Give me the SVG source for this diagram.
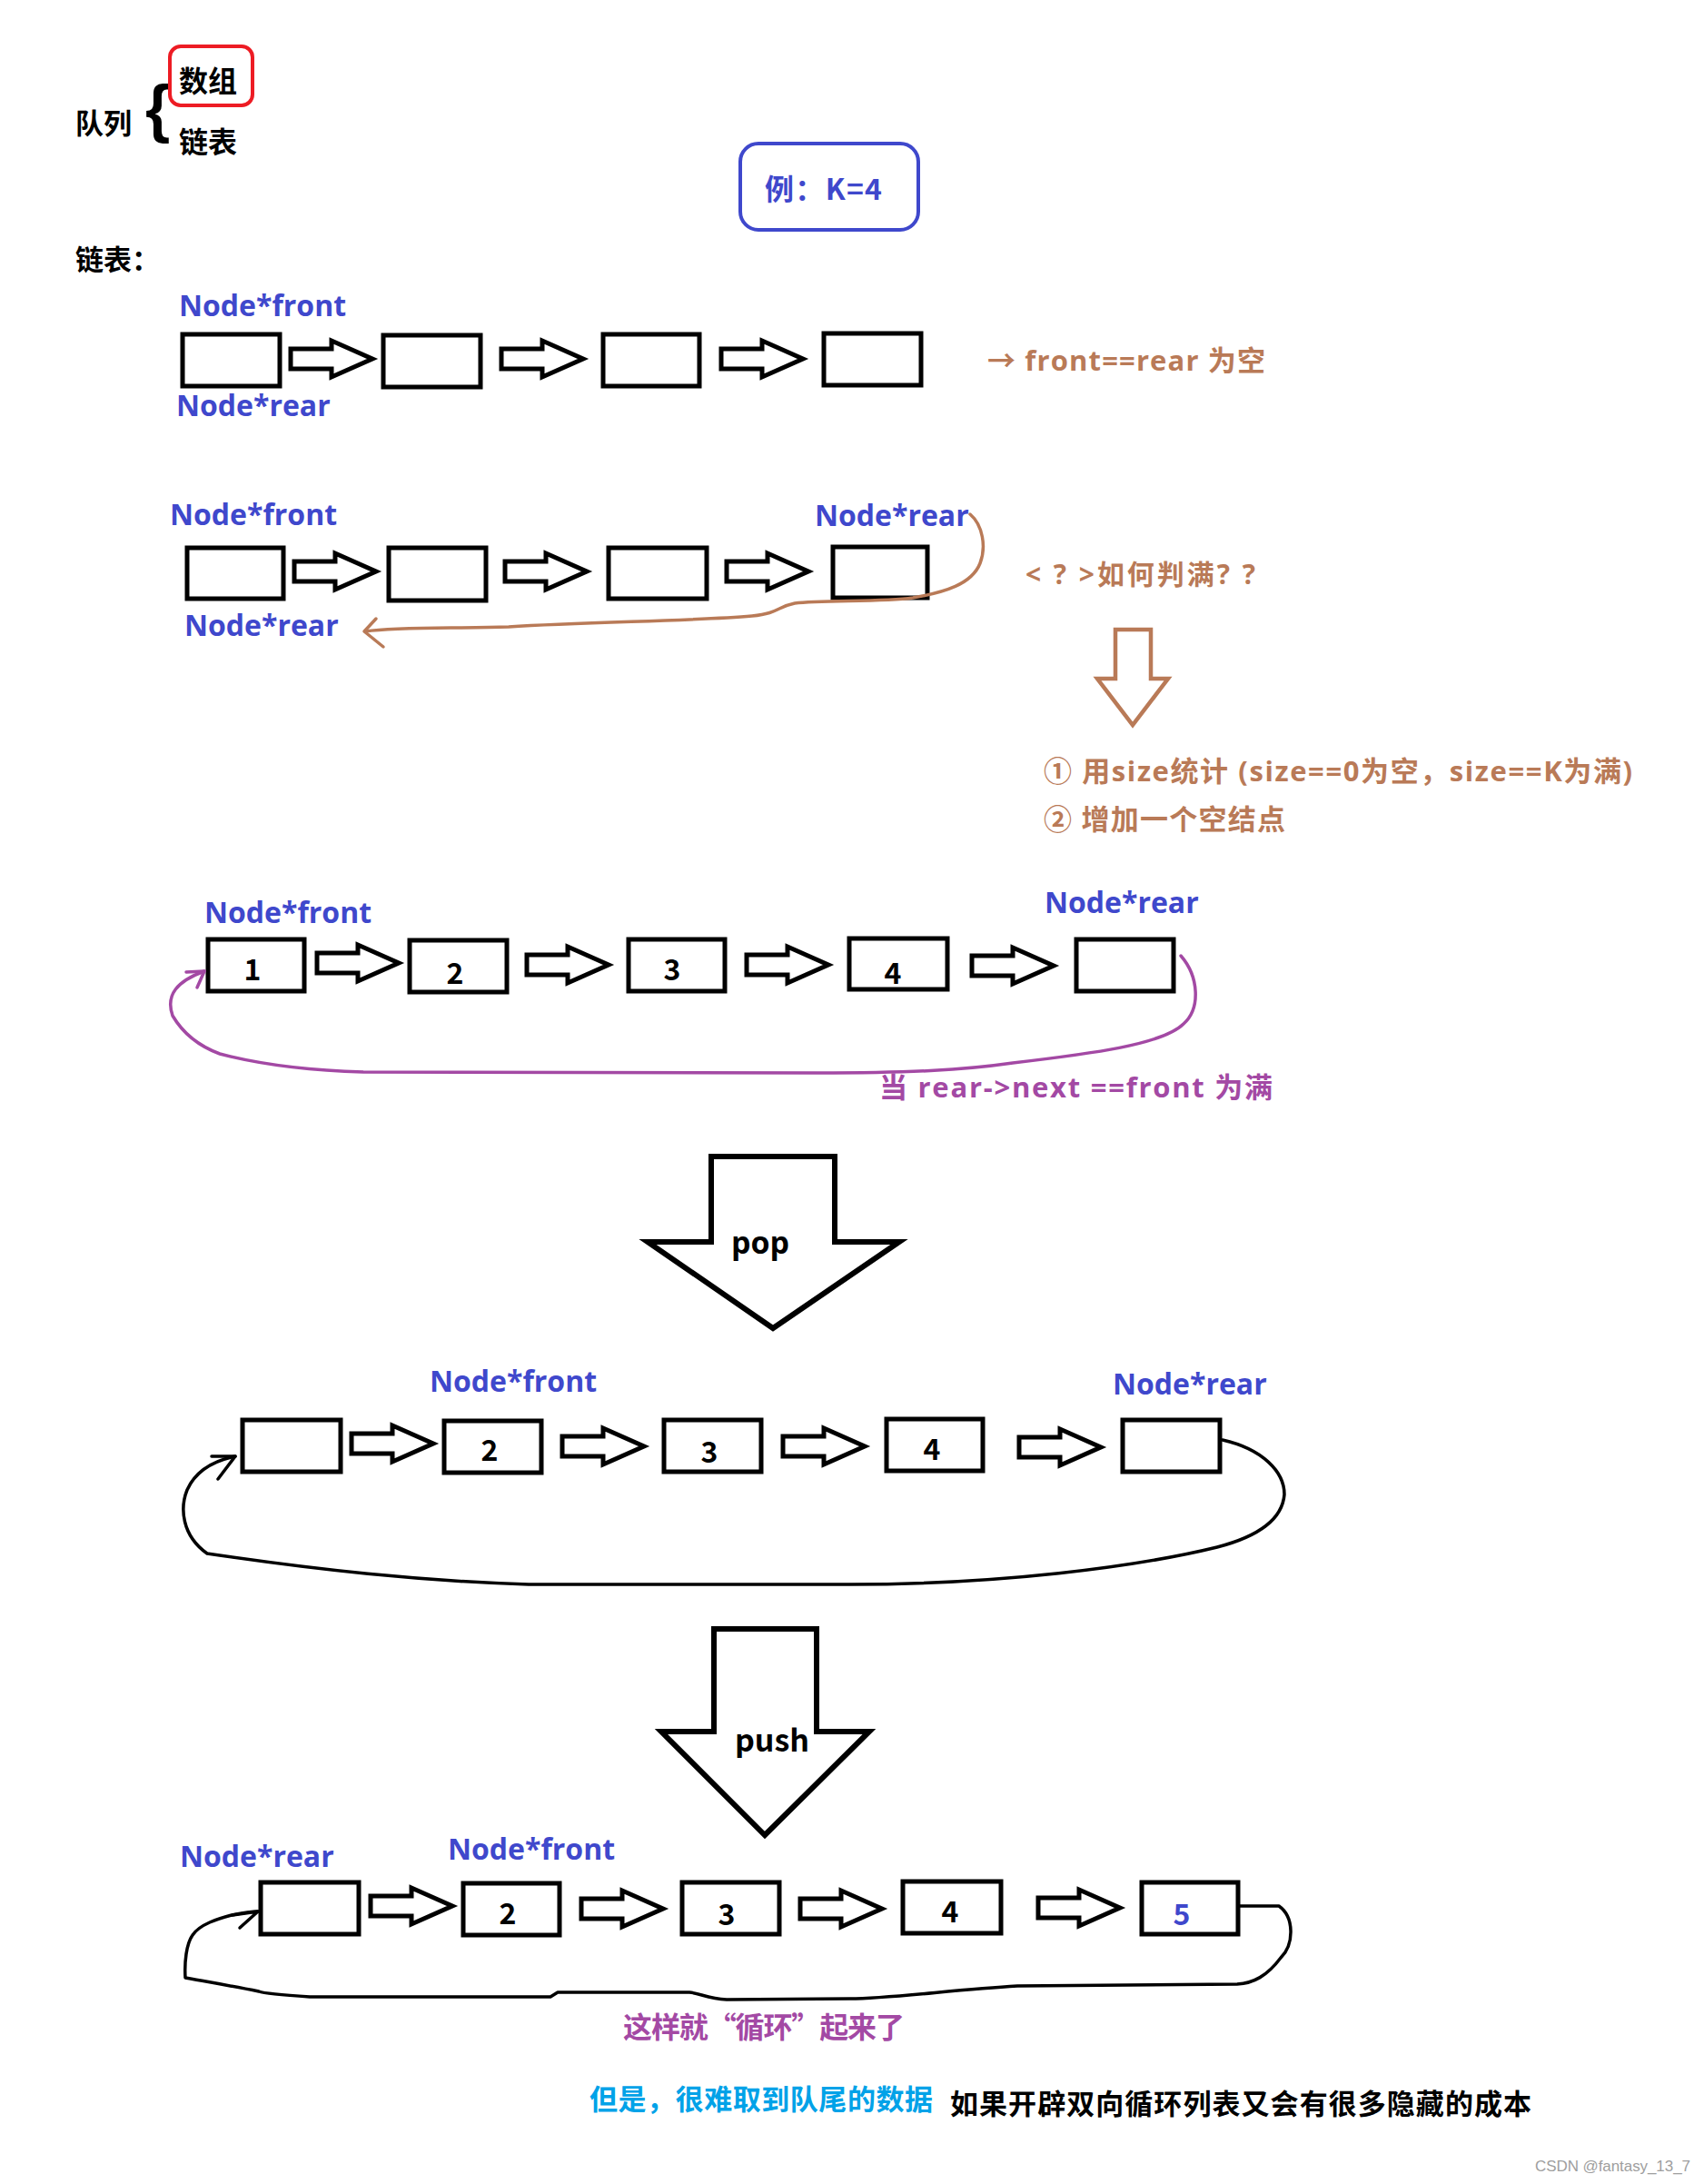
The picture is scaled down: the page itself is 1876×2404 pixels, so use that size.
<svg xmlns="http://www.w3.org/2000/svg" xmlns:xlink="http://www.w3.org/1999/xlink" width="1876" height="2404" viewBox="0 0 1876 2404">
<style>
text{font-family:"Open Sans","Noto Sans CJK SC",sans-serif;font-weight:700;}
.cjk{font-family:"Noto Sans CJK SC",sans-serif;font-weight:700;}
.lbl{font-size:32px;fill:#3f48cc;}
.num{font-size:32px;fill:#000;text-anchor:middle;font-family:"Noto Sans CJK SC",sans-serif;}
.box{fill:#fff;stroke:#000;stroke-width:5;}
.ba{fill:#fff;stroke:#000;stroke-width:5;stroke-linejoin:miter;}
.brown{fill:#b97a57;}
.purple{fill:#a349a4;}
.curve{fill:none;stroke-width:3.5;stroke-linecap:round;stroke-linejoin:round;}
</style>
<defs>
<path id="barrow" d="M0,9 H45 V0 L90,20 L45,40 V31 H0 Z"/>
</defs>
<rect width="1876" height="2404" fill="#fff"/>

<g id="header">
<text class="cjk" x="83" y="147" font-size="31">队列</text>
<text x="160" y="143" font-size="70" style="font-family:'Liberation Sans',sans-serif;font-weight:700">{</text>
<rect x="187" y="51" width="91" height="65" rx="12" fill="none" stroke="#ed1c24" stroke-width="4"/>
<text class="cjk" x="197" y="101" font-size="32">数组</text>
<text class="cjk" x="197" y="168" font-size="32">链表</text>
<rect x="815" y="158" width="196" height="95" rx="20" fill="none" stroke="#3f48cc" stroke-width="4"/>
<text class="cjk" x="842" y="220" font-size="32" fill="#3f48cc" textLength="129">例：K=4</text>
<text class="cjk" x="83" y="297" font-size="31">链表：</text>
</g>

<g id="row1">
<text class="lbl" x="197" y="348">Node*front</text>
<text class="lbl" x="194" y="458">Node*rear</text>
<rect class="box" x="201" y="368" width="107" height="57"/>
<rect class="box" x="422" y="369" width="107" height="57"/>
<rect class="box" x="664" y="368" width="106" height="57"/>
<rect class="box" x="907" y="367" width="107" height="57"/>
<text class="brown" x="1087" y="408" font-size="31" textLength="306">→ front==rear 为空</text>
</g>

<g id="row2">
<text class="lbl" x="187" y="578">Node*front</text>
<text class="lbl" x="897" y="579">Node*rear</text>
<text class="lbl" x="203" y="700">Node*rear</text>
<rect class="box" x="206" y="603" width="106" height="56"/>
<rect class="box" x="428" y="603" width="107" height="58"/>
<rect class="box" x="670" y="603" width="108" height="56"/>
<rect class="box" x="917" y="602" width="104" height="56"/>
<text class="brown" x="1129" y="643" font-size="30" textLength="253">&lt; ? &gt;如何判满? ?</text>
<path d="M1228,693 H1267 V747 H1286 L1247,798 L1208,747 H1228 Z" fill="#fff" stroke="#b97a57" stroke-width="4.5" stroke-linejoin="miter"/>
<text class="brown" x="1149" y="860" font-size="31" textLength="648">① 用size统计 (size==0为空，size==K为满)</text>
<text class="brown" x="1149" y="913" font-size="31" textLength="266">② 增加一个空结点</text>
</g>

<g id="row3">
<text class="lbl" x="225" y="1016">Node*front</text>
<text class="lbl" x="1150" y="1005">Node*rear</text>
<rect class="box" x="229" y="1034" width="106" height="57"/>
<rect class="box" x="451" y="1035" width="107" height="57"/>
<rect class="box" x="692" y="1034" width="106" height="57"/>
<rect class="box" x="935" y="1033" width="108" height="56"/>
<rect class="box" x="1185" y="1034" width="107" height="57"/>
<text class="num" x="278" y="1079">1</text>
<text class="num" x="501" y="1083">2</text>
<text class="num" x="740" y="1079">3</text>
<text class="num" x="983" y="1083">4</text>
<text class="purple" x="968" y="1208" font-size="31" textLength="433">当 rear-&gt;next ==front 为满</text>
</g>

<g id="pop">
<path d="M783,1273 H919 V1367 H990 L851,1462 L713,1367 H783 Z" fill="#fff" stroke="#000" stroke-width="6" stroke-linejoin="miter"/>
<text x="837" y="1380" font-size="34" text-anchor="middle">pop</text>
</g>

<g id="row4">
<text class="lbl" x="473" y="1532">Node*front</text>
<text class="lbl" x="1225" y="1535">Node*rear</text>
<rect class="box" x="267" y="1563" width="108" height="57"/>
<rect class="box" x="489" y="1564" width="107" height="57"/>
<rect class="box" x="731" y="1563" width="107" height="57"/>
<rect class="box" x="976" y="1562" width="106" height="57"/>
<rect class="box" x="1236" y="1563" width="107" height="57"/>
<text class="num" x="539" y="1608">2</text>
<text class="num" x="781" y="1610">3</text>
<text class="num" x="1026" y="1607">4</text>
</g>

<g id="push">
<path d="M786,1793 H899 V1906 H957 L842,2020 L728,1906 H786 Z" fill="#fff" stroke="#000" stroke-width="6" stroke-linejoin="miter"/>
<text class="cjk" x="850" y="1928" font-size="34" text-anchor="middle">push</text>
</g>

<g id="row5">
<text class="lbl" x="198" y="2055">Node*rear</text>
<text class="lbl" x="493" y="2047">Node*front</text>
<rect class="box" x="287" y="2072" width="108" height="57"/>
<rect class="box" x="510" y="2073" width="106" height="57"/>
<rect class="box" x="751" y="2072" width="107" height="57"/>
<rect class="box" x="994" y="2071" width="108" height="57"/>
<rect class="box" x="1257" y="2072" width="106" height="57"/>
<text class="num" x="559" y="2118">2</text>
<text class="num" x="800" y="2119">3</text>
<text class="num" x="1046" y="2116">4</text>
<text class="num" x="1301" y="2119" style="fill:#3f48cc">5</text>
<text class="purple cjk" x="686" y="2243" font-size="32" textLength="310">这样就“循环”起来了</text>
</g>

<g id="footer">
<text class="cjk" x="649" y="2322" font-size="31" fill="#00a2e8" textLength="378">但是，很难取到队尾的数据</text>
<text class="cjk" x="1046" y="2327" font-size="31" fill="#000" textLength="640">如果开辟双向循环列表又会有很多隐藏的成本</text>
<text x="1690" y="2390" font-size="17" fill="#9e9e9e" style="font-family:'Liberation Sans',sans-serif;font-weight:400" textLength="171">CSDN @fantasy_13_7</text>
</g>

<g id="connectors">
<use xlink:href="#barrow" href="#barrow" class="ba" x="320" y="375"/>
<use xlink:href="#barrow" href="#barrow" class="ba" x="552" y="375"/>
<use xlink:href="#barrow" href="#barrow" class="ba" x="794" y="375"/>

<use xlink:href="#barrow" href="#barrow" class="ba" x="324" y="609"/>
<use xlink:href="#barrow" href="#barrow" class="ba" x="556" y="609"/>
<use xlink:href="#barrow" href="#barrow" class="ba" x="800" y="609"/>

<use xlink:href="#barrow" href="#barrow" class="ba" x="349" y="1040"/>
<use xlink:href="#barrow" href="#barrow" class="ba" x="580" y="1042"/>
<use xlink:href="#barrow" href="#barrow" class="ba" x="822" y="1042"/>
<use xlink:href="#barrow" href="#barrow" class="ba" x="1070" y="1043"/>

<use xlink:href="#barrow" href="#barrow" class="ba" x="387" y="1569"/>
<use xlink:href="#barrow" href="#barrow" class="ba" x="619" y="1572"/>
<use xlink:href="#barrow" href="#barrow" class="ba" x="862" y="1572"/>
<use xlink:href="#barrow" href="#barrow" class="ba" x="1122" y="1573"/>

<use xlink:href="#barrow" href="#barrow" class="ba" x="408" y="2078"/>
<use xlink:href="#barrow" href="#barrow" class="ba" x="640" y="2081"/>
<use xlink:href="#barrow" href="#barrow" class="ba" x="881" y="2081"/>
<use xlink:href="#barrow" href="#barrow" class="ba" x="1143" y="2080"/>

<path class="curve" stroke="#b97a57" d="M1068,566 C1082,578 1086,602 1079,620 C1070,643 1040,652 1005,658 C970,663 905,660 875,664 C855,668 858,675 828,678 C760,684 650,684 560,690 C500,692 440,690 402,695"/>
<path class="curve" stroke="#b97a57" d="M414,681 L401,695 L422,712"/>

<path class="curve" stroke="#a349a4" d="M1300,1052 C1320,1075 1322,1110 1303,1127 C1280,1150 1200,1160 1115,1170 C1060,1178 1000,1181 900,1181 L400,1180 C330,1178 280,1170 242,1160 C215,1150 200,1135 190,1118 C182,1095 195,1080 225,1069"/>
<path class="curve" stroke="#a349a4" d="M205,1070 L225,1069 L217,1087"/>

<path class="curve" stroke="#000" d="M1346,1585 C1390,1595 1414,1620 1414,1645 C1412,1670 1390,1690 1340,1703 C1250,1725 1100,1744 935,1744 L582,1744 C460,1740 350,1728 228,1710 C200,1690 198,1660 206,1640 C215,1620 235,1608 259,1603"/>
<path class="curve" stroke="#000" d="M233,1603 L259,1603 L240,1628"/>

<path class="curve" stroke="#000" d="M1363,2098 L1408,2098 C1425,2110 1425,2140 1410,2155 C1395,2175 1380,2183 1362,2184 C1250,2185 1150,2185 1120,2186 C1050,2190 980,2200 936,2200 L800,2201 C780,2200 770,2194 759,2193 L614,2193 L606,2198 L341,2198 C310,2196 290,2194 285,2192 C250,2185 220,2180 204,2177 C203,2160 205,2140 212,2130 C220,2118 240,2112 255,2108 C265,2106 275,2104 284,2104"/>
<path class="curve" stroke="#000" d="M256,2108 L284,2104 L264,2122"/>
</g>
</svg>
